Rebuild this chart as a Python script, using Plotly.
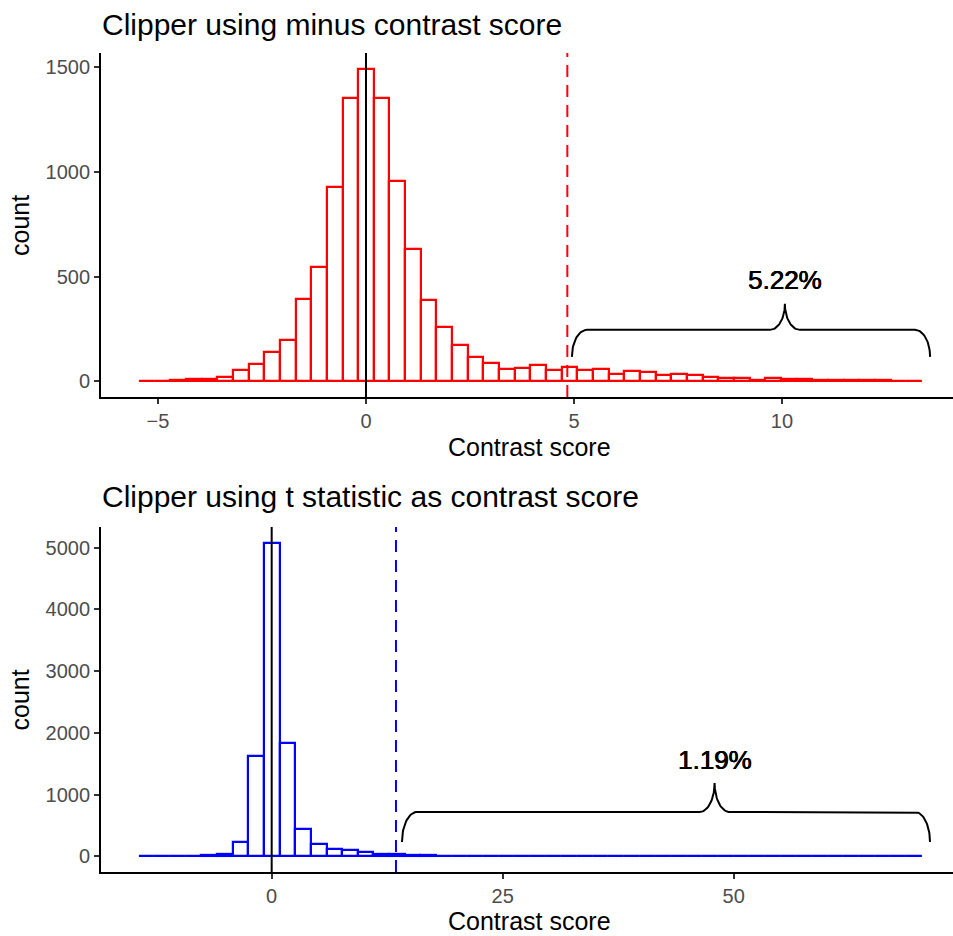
import numpy as np
import plotly.graph_objects as go

# ---- histogram of the minus contrast score (bins of equal width) ----
minus_bin_start = -5.271          # centre of the first bin
minus_bin_width = 0.3765
minus_counts = [2, 3, 6, 10, 13, 21, 54, 83, 139, 199,
                392, 546, 930, 1352, 1494, 1352, 957, 631, 389, 258,
                173, 117, 88, 61, 64, 77, 53, 67, 53, 59,
                34, 51, 46, 29, 35, 29, 19, 16, 18, 6,
                14, 10, 11, 8, 6, 5, 5, 5, 3, 3]
minus_threshold = 4.84
minus_label = "5.22%"

# ---- histogram of the t statistic contrast score ----
t_bin_start = -13.56
t_bin_width = 1.695
t_counts = [2, 2, 3, 5, 20, 45, 236, 1617, 5080, 1843,
            447, 205, 124, 108, 65, 38, 35, 22, 15, 10,
            7, 5, 4, 3, 3, 2, 2, 2, 1, 1,
            1, 1, 1, 1, 1, 1, 1, 1, 1, 1,
            1, 1, 1, 1, 1, 1, 1, 1, 1, 1]
t_threshold = 13.45
t_label = "1.19%"

# brace geometry (data units): x start, x end, tip x, end y, mid y, tip y, corner width
minus_brace = dict(x0=4.95, x1=13.56, xtip=10.07, y_end=117, y_mid=246, y_tip=370, rx=0.36)
minus_label_y = 484
t_brace = dict(x0=14.1, x1=71.24, xtip=47.93, y_end=232, y_mid=718, y_tip=1188, rx=1.62)
t_label_y = 1555

FONT = "Liberation Sans, Arial, Helvetica, sans-serif"


def bin_centres(start, width, n):
    return [start + i * width for i in range(n)]


def brace_points(x0, x1, xtip, y_end, y_mid, y_tip, rx, n=24):
    ry1 = y_mid - y_end
    ry2 = y_tip - y_mid
    xs, ys = [], []
    for t in np.linspace(np.pi, np.pi / 2, n):
        xs.append(x0 + rx + rx * np.cos(t)); ys.append(y_end + ry1 * np.sin(t))
    for t in np.linspace(-np.pi / 2, 0, n):
        xs.append(xtip - rx + rx * np.cos(t)); ys.append(y_tip + ry2 * np.sin(t))
    for t in np.linspace(np.pi, 1.5 * np.pi, n):
        xs.append(xtip + rx + rx * np.cos(t)); ys.append(y_tip + ry2 * np.sin(t))
    for t in np.linspace(np.pi / 2, 0, n):
        xs.append(x1 - rx + rx * np.cos(t)); ys.append(y_end + ry1 * np.sin(t))
    return xs, ys


fig = go.Figure()

panels = [
    ("x", "y", minus_bin_start, minus_bin_width, minus_counts, "red", minus_brace),
    ("x2", "y2", t_bin_start, t_bin_width, t_counts, "blue", t_brace),
]
for xa, ya, start, width, counts, colour, brace in panels:
    fig.add_trace(go.Bar(
        x=bin_centres(start, width, len(counts)), y=counts, width=width,
        marker=dict(color="white", line=dict(color=colour, width=2.2)),
        xaxis=xa, yaxis=ya, showlegend=False, hoverinfo="x+y",
    ))
    bx, by = brace_points(**brace)
    fig.add_trace(go.Scatter(
        x=bx, y=by, mode="lines", line=dict(color="black", width=2),
        xaxis=xa, yaxis=ya, showlegend=False, hoverinfo="skip",
    ))

# vertical reference lines: zero (solid) and threshold (dashed)
for xa, ya, thr, colour in [("x", "y", minus_threshold, "red"), ("x2", "y2", t_threshold, "blue")]:
    fig.add_shape(type="line", xref=xa, yref=f"{ya} domain", x0=0, x1=0, y0=0, y1=1,
                  line=dict(color="black", width=2))
    fig.add_shape(type="line", xref=xa, yref=f"{ya} domain", x0=thr, x1=thr, y0=0, y1=1,
                  line=dict(color=colour, width=2, dash="12px,8px"))

axis_common = dict(
    showline=True, linecolor="black", linewidth=1.8,
    ticks="outside", ticklen=5, tickwidth=1.6, tickcolor="#333333",
    tickfont=dict(family=FONT, size=20, color="#4D4D4D"),
    showgrid=False, zeroline=False,
)

fig.update_layout(
    width=953, height=936,
    margin=dict(l=101, r=0, t=53, b=64),
    paper_bgcolor="white", plot_bgcolor="white",
    bargap=0,
    xaxis=dict(axis_common, domain=[0, 1], anchor="y", range=[-6.370, 14.111],
               tickvals=[-5, 0, 5, 10]),
    yaxis=dict(axis_common, domain=[0.58, 1], anchor="x", range=[-74.7, 1568.7],
               tickvals=[0, 500, 1000, 1500]),
    xaxis2=dict(axis_common, domain=[0, 1], anchor="y2", range=[-18.47, 73.73],
                tickvals=[0, 25, 50]),
    yaxis2=dict(axis_common, domain=[0, 0.4212], anchor="x2", range=[-254, 5334],
                tickvals=[0, 1000, 2000, 3000, 4000, 5000]),
)

annotations = [
    # plot titles
    dict(text="Clipper using minus contrast score", x=-0.001, y=1.0354,
         xanchor="left", yanchor="middle", font=dict(size=30)),
    dict(text="Clipper using t statistic as contrast score", x=-0.001, y=0.4579,
         xanchor="left", yanchor="middle", font=dict(size=30)),
    # axis titles
    dict(text="Contrast score", x=0.5035, y=0.5190, xanchor="center", yanchor="middle",
         font=dict(size=25)),
    dict(text="Contrast score", x=0.5035, y=-0.0600, xanchor="center", yanchor="middle",
         font=dict(size=25)),
    dict(text="count", x=-0.0951, y=0.79, textangle=-90, xanchor="center", yanchor="middle",
         font=dict(size=25)),
    dict(text="count", x=-0.0951, y=0.2106, textangle=-90, xanchor="center", yanchor="middle",
         font=dict(size=25)),
]
for a in annotations:
    a.update(xref="paper", yref="paper", showarrow=False)
    a["font"].update(family=FONT, color="black")
    fig.add_annotation(**a)

# percentage labels above the braces (slightly heavy stroke)
label_font = dict(family=FONT, size=26, color="black",
                  shadow="0.5px 0 0 black, -0.3px 0 0 black")
fig.add_annotation(text=minus_label, x=minus_brace["xtip"], y=minus_label_y, xref="x", yref="y",
                   showarrow=False, xanchor="center", yanchor="middle", font=label_font)
fig.add_annotation(text=t_label, x=t_brace["xtip"], y=t_label_y, xref="x2", yref="y2",
                   showarrow=False, xanchor="center", yanchor="middle", font=label_font)

fig.write_html("out.html")
